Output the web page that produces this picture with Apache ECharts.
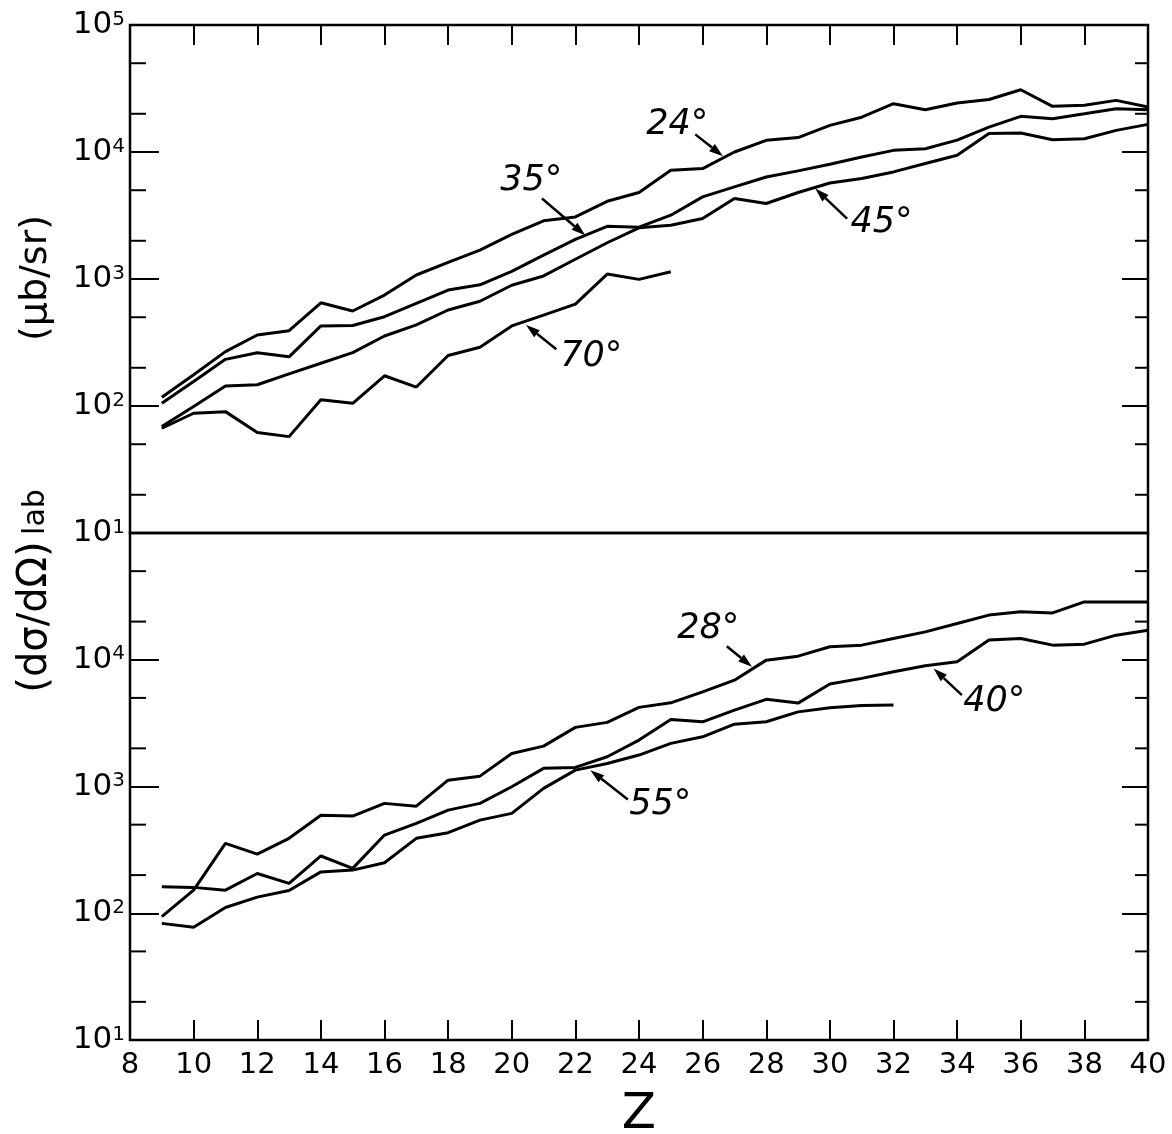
<!DOCTYPE html>
<html>
<head>
<meta charset="utf-8">
<title>Cross sections vs Z</title>
<script src="https://cdn.jsdelivr.net/npm/echarts@6/dist/echarts.min.js"></script>
<style>
  html, body { margin: 0; padding: 0; background: #fff; }
  #chart { width: 1172px; height: 1134px; }
</style>
</head>
<body>
<div id="chart"></div>
<script>
// Z of each point (9 .. 40)
var zValues = [9, 10, 11, 12, 13, 14, 15, 16, 17, 18, 19, 20, 21, 22, 23, 24,
               25, 26, 27, 28, 29, 30, 31, 32, 33, 34, 35, 36, 37, 38, 39, 40];

// upper panel (microbarn / sr)
var top24 = [117, 176, 268, 362, 392, 650, 560, 747, 1075, 1350, 1690, 2244, 2870, 3080, 4090, 4800,
             7180, 7400, 10000, 12360, 13000, 16200, 18800, 24000, 21500, 24300, 25900, 30900, 22900, 23300, 25500, 22600];
var top35 = [105, 156, 233, 263, 244, 427, 430, 505, 643, 818, 900, 1150, 1540, 2050, 2600, 2560,
             3180, 4430, 5310, 6360, 7100, 8000, 9140, 10300, 10600, 12400, 15700, 19100, 18300, 20000, 21900, 21500];
var top45 = [68.9, 99, 144, 147, 179, 217, 263, 356, 435, 570, 668, 893, 1057, 1430, 1930, 2530,
             2650, 2990, 4300, 3930, 4800, 5700, 6180, 6970, 8110, 9420, 13960, 14100, 12500, 12700, 14800, 16500];
var top70 = [66.8, 87.7, 90.3, 61.8, 57.4, 112, 105, 173, 141, 250, 290, 427, 520, 635, 1094, 993, 1140];

// lower panel
var bot28 = [94, 152, 356, 293, 390, 594, 584, 736, 700, 1122, 1207, 1824, 2083, 2927, 3206, 4210,
             4573, 5580, 6900, 9930, 10670, 12650, 13040, 14720, 16600, 19300, 22500, 23900, 23400, 28600, 28600, 28600];
var bot40 = [162, 160, 152, 206, 172, 283, 226, 414, 512, 651, 736, 995, 1390, 1415, 1716, 2323,
             3384, 3240, 4010, 4870, 4550, 6430, 7130, 8040, 8960, 9640, 14290, 14730, 13040, 13280, 15630, 17100];
var bot55 = [83.2, 77.4, 111, 134, 151, 212, 219, 250, 390, 432, 543, 614, 966, 1346, 1520, 1770,
             2188, 2467, 3105, 3240, 3880, 4180, 4365, 4390];

// minor ticks of the log axes
var minorTicks = [20, 50, 200, 500, 2000, 5000, 20000, 50000];

// angle labels: [text Z, text value, arrow start Z, value, arrow tip Z, value]
var topLabels = ['24°', '35°', '45°', '70°'];
var topLabelPos = [
    [25.2, 16200, 25.77, 13770, 26.64, 9250],
    [20.61, 5890, 20.95, 4300, 22.31, 2210],
    [31.62, 2750, 30.54, 2990, 29.54, 5150],
    [22.5, 243, 21.4, 280, 20.45, 435]
];
var botLabels = ['28°', '40°', '55°'];
var botLabelPos = [
    [26.18, 17400, 26.76, 12800, 27.55, 8790],
    [35.17, 4630, 34.15, 5260, 33.26, 8530],
    [24.67, 713, 23.65, 791, 22.47, 1346]
];

var FONT = 'DejaVu Sans';

function pairs(arr) {
    return arr.map(function (v, i) { return [zValues[i], v]; });
}

function curve(name, arr, idx) {
    return {
        name: name,
        type: 'line',
        xAxisIndex: idx,
        yAxisIndex: idx * 2,
        data: pairs(arr),
        symbol: 'none',
        silent: true,
        lineStyle: { color: '#000', width: 3 },
        z: 3
    };
}

function minorTickSeries(idx) {
    return {
        type: 'custom',
        xAxisIndex: idx,
        yAxisIndex: idx * 2,
        silent: true,
        data: minorTicks.map(function (v) { return [8, v]; }),
        encode: { x: 0, y: 1 },
        renderItem: function (params, api) {
            var p = api.coord([8, api.value(1)]);
            var q = api.coord([40, api.value(1)]);
            return {
                type: 'group',
                children: [
                    { type: 'line', shape: { x1: p[0], y1: p[1], x2: p[0] + 16, y2: p[1] },
                      style: { stroke: '#000', lineWidth: 2 } },
                    { type: 'line', shape: { x1: q[0] - 13, y1: q[1], x2: q[0], y2: q[1] },
                      style: { stroke: '#000', lineWidth: 2 } }
                ]
            };
        }
    };
}

function labelSeries(idx, names, pos) {
    return {
        type: 'custom',
        xAxisIndex: idx,
        yAxisIndex: idx * 2,
        silent: true,
        data: pos,
        encode: { x: [0, 2, 4], y: [1, 3, 5] },
        renderItem: function (params, api) {
            var t = api.coord([api.value(0), api.value(1)]);
            var a = api.coord([api.value(2), api.value(3)]);
            var b = api.coord([api.value(4), api.value(5)]);
            var ang = Math.atan2(b[1] - a[1], b[0] - a[0]);
            var L = 14, W = 4.5;
            var base = [b[0] - L * Math.cos(ang), b[1] - L * Math.sin(ang)];
            var s1 = [base[0] + W * Math.sin(ang), base[1] - W * Math.cos(ang)];
            var s2 = [base[0] - W * Math.sin(ang), base[1] + W * Math.cos(ang)];
            return {
                type: 'group',
                children: [
                    { type: 'text', x: t[0], y: t[1],
                      style: { text: names[params.dataIndex], fill: '#000', fontSize: 35,
                               fontStyle: 'italic', fontFamily: FONT,
                               align: 'center', verticalAlign: 'middle' } },
                    { type: 'line', shape: { x1: a[0], y1: a[1], x2: base[0], y2: base[1] },
                      style: { stroke: '#000', lineWidth: 2.5 } },
                    { type: 'polygon', shape: { points: [b, s1, s2] },
                      style: { fill: '#000' } }
                ]
            };
        }
    };
}

function xAxisFor(idx, pos, showLabels) {
    return {
        type: 'value',
        gridIndex: idx,
        position: pos,
        min: 8,
        max: 40,
        interval: 2,
        axisLine: { show: false },
        axisTick: { show: true, inside: true, length: 20, lineStyle: { color: '#000', width: 2 } },
        axisLabel: { show: showLabels, color: '#000', fontSize: 29, fontFamily: FONT, margin: 11 },
        splitLine: { show: false },
        name: showLabels ? 'Z' : '',
        nameLocation: 'middle',
        nameGap: 50,
        nameTextStyle: { color: '#000', fontSize: 50, fontFamily: FONT }
    };
}

function yAxisFor(idx, pos, showMax) {
    var left = pos === 'left';
    return {
        type: 'log',
        logBase: 10,
        gridIndex: idx,
        position: pos,
        min: 10,
        max: 100000,
        axisLine: { show: false },
        axisTick: { show: true, inside: true, length: left ? 29 : 26, lineStyle: { color: '#000', width: 2 } },
        axisLabel: {
            show: left,
            showMaxLabel: showMax,
            margin: 5,
            formatter: function (v) {
                return '{b|10}{e|' + Math.round(Math.log10(v)) + '}';
            },
            rich: {
                b: { fontSize: 31, lineHeight: 31, fontFamily: FONT, color: '#000' },
                e: { fontSize: 20, lineHeight: 20, fontFamily: FONT, color: '#000', verticalAlign: 'top' }
            }
        },
        splitLine: { show: false }
    };
}

function titlePart(text, y, size) {
    return {
        type: 'text',
        x: 36,
        y: y,
        rotation: Math.PI / 2,
        style: {
            text: text,
            fill: '#000',
            fontSize: size,
            fontFamily: FONT,
            align: 'center',
            verticalAlign: 'middle'
        }
    };
}

var chart = echarts.init(document.getElementById('chart'), null, { renderer: 'canvas' });

chart.setOption({
    backgroundColor: '#fff',
    animation: false,
    grid: [
        { left: 130, top: 25, width: 1018, height: 508, outerBoundsMode: 'none',
          show: true, borderColor: '#000', borderWidth: 2.5, backgroundColor: 'transparent' },
        { left: 130, top: 533, width: 1018, height: 507, outerBoundsMode: 'none',
          show: true, borderColor: '#000', borderWidth: 2.5, backgroundColor: 'transparent' }
    ],
    xAxis: [
        xAxisFor(0, 'top', false),
        xAxisFor(1, 'bottom', true)
    ],
    yAxis: [
        yAxisFor(0, 'left', true),
        yAxisFor(0, 'right', true),
        yAxisFor(1, 'left', false),
        yAxisFor(1, 'right', false)
    ],
    graphic: [
        titlePart('(dσ/dΩ)', 617, 40),
        titlePart('lab', 512, 30),
        titlePart('(μb/sr)', 278, 38)
    ],
    series: [
        curve('24°', top24, 0),
        curve('35°', top35, 0),
        curve('45°', top45, 0),
        curve('70°', top70, 0),
        curve('28°', bot28, 1),
        curve('40°', bot40, 1),
        curve('55°', bot55, 1),
        minorTickSeries(0),
        minorTickSeries(1),
        labelSeries(0, topLabels, topLabelPos),
        labelSeries(1, botLabels, botLabelPos)
    ]
});
</script>
</body>
</html>
